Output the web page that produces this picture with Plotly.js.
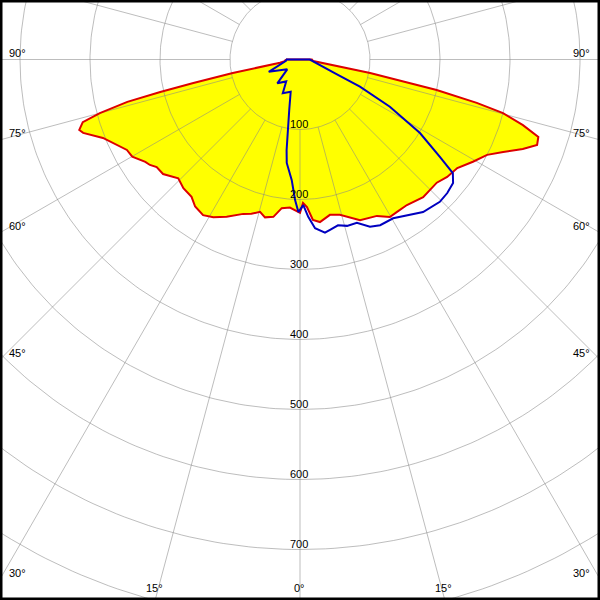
<!DOCTYPE html>
<html>
<head>
<meta charset="utf-8">
<script src="https://cdn.plot.ly/plotly-3.0.1.min.js"></script>
<style>
html,body{margin:0;padding:0;background:#fff;overflow:hidden}
#chart{width:600px;height:600px}
</style>
</head>
<body>
<div id="chart"></div>
<script>
// ---- data (gamma angle in degrees, 0 = straight down; intensity in cd/klm) ----
const redAngles  = [-90, -84, -81, -78.6, -77.6, -76.9, -76.2, -75, -73.9, -72.3, -71.3, -68.3, -62.4, -59.9, -56.5, -54.9, -53.1, -50.1, -45.7, -42.2, -38.3, -35.5, -31.9, -28.8, -25, -20.2, -17.5, -14.7, -12.5, -9.6, -7, -3.9, 0, 1.2, 2.7, 4.6, 7, 10.9, 14.4, 17.5, 20.5, 26.2, 29.7, 32.5, 36.3, 41.8, 48, 51.4, 55.4, 59.4, 63, 65.5, 68.1, 70.2, 72, 73.6, 75.2, 76.2, 77.4, 79.1, 83.4, 90];
const redValues  = [20, 22, 29, 98, 156, 205, 254, 296, 323, 331, 327, 303, 279, 277, 265, 262, 256, 255, 243, 248, 250, 258, 262, 257, 248, 235, 231, 225, 231, 228, 214, 212, 219, 205, 211, 230, 234, 226, 229, 237, 245, 249, 259, 258, 258, 264, 263, 269, 273, 287, 300, 319, 343, 360, 358, 332, 300, 260, 200, 102, 19, 17];

const blueAngles = [-90, -85, -68.5, -52.3, -43.6, -32.2, -27.1, -16.1, -12, -9.9, -8.4, -7.3, -3.9, -2, -0.6, 1.3, 3, 5.1, 8.2, 10, 12.9, 15.8, 19.2, 22.7, 25.8, 30.4, 34.5, 38.9, 44.5, 47.8, 51.1, 53.4, 55.2, 58.5, 62.3, 65.6, 68.3, 88, 90];
const blueValues = [20, 20, 48, 23, 47, 37, 54, 48, 74, 102, 131, 149, 173, 201, 218, 208, 225, 242, 250, 247, 243, 247, 247, 259, 263, 263, 270, 280, 285, 284, 281, 272, 243, 201, 145, 94, 54, 14, 14];

const ringValues = [100, 200, 300, 400, 500, 600, 700, 800];
const spokeAngles = [0, 15, 30, 45, 60, 75, 90, 105, 120, 135, 150, 165, 180, 195, 210, 225, 240, 255, 270, 285, 300, 315, 330, 345];
const radialTickValues = [100, 200, 300, 400, 500, 600, 700];
const radialTickLabels = ['100', '200', '300', '400', '500', '600', '700'];
const sideAngleValues = [90, 75, 60, 45, 30];
const sideAngleLabels = ['90°', '75°', '60°', '45°', '30°'];
const bottomAngleValues = [-15, 0, 15];
const bottomAngleLabels = ['15°', '0°', '15°'];

// ---- geometry of the view ----
const W = 600, H = 600;
const PX = 0.7;             // pixels per cd/klm
const CX = 300, CY = 59.5;  // pole position in pixels
const xRange = [-CX / PX, (W - CX) / PX];
const yRange = [-(H - CY) / PX, CY / PX];
const d2r = Math.PI / 180;

function polarToXY(angles, values, close) {
  const x = [], y = [];
  for (let i = 0; i < angles.length; i++) {
    x.push(values[i] * Math.sin(angles[i] * d2r));
    y.push(-values[i] * Math.cos(angles[i] * d2r));
  }
  if (close) { x.push(x[0]); y.push(y[0]); }
  return {x, y};
}

const red = polarToXY(redAngles, redValues, true);
const blue = polarToXY(blueAngles, blueValues, true);

// grid rings
const gx = [], gy = [];
ringValues.forEach(r => {
  for (let a = 0; a <= 360; a += 1) {
    gx.push(r * Math.sin(a * d2r));
    gy.push(-r * Math.cos(a * d2r));
  }
  gx.push(null); gy.push(null);
});
// grid spokes (start at first ring)
spokeAngles.forEach(a => {
  gx.push(ringValues[0] * Math.sin(a * d2r), 1000 * Math.sin(a * d2r), null);
  gy.push(-ringValues[0] * Math.cos(a * d2r), -1000 * Math.cos(a * d2r), null);
});

const gridColor = 'rgba(135,135,135,0.55)';
const traces = [
  {x: red.x, y: red.y, type: 'scatter', mode: 'lines', fill: 'toself', fillcolor: '#ffff00',
   line: {width: 0, color: 'rgba(0,0,0,0)'}, hoverinfo: 'skip', showlegend: false},
  {x: gx, y: gy, type: 'scatter', mode: 'lines', line: {color: gridColor, width: 1},
   hoverinfo: 'skip', showlegend: false, connectgaps: false},
  {x: red.x, y: red.y, type: 'scatter', mode: 'lines', line: {color: '#dd0000', width: 2},
   hoverinfo: 'skip', showlegend: false},
  {x: blue.x, y: blue.y, type: 'scatter', mode: 'lines', line: {color: '#0000c0', width: 2},
   hoverinfo: 'skip', showlegend: false}
];

const font = {family: 'Liberation Sans, Arial, sans-serif', size: 11, color: '#000'};
const annotations = [];
const pxToX = p => (p - CX) / PX;
const pxToY = p => (CY - p) / PX;

// radial value labels along the 0° spoke
radialTickValues.forEach((v, i) => {
  annotations.push({x: pxToX(299), y: -v + 5.5 / PX, text: radialTickLabels[i], showarrow: false,
    xanchor: 'center', yanchor: 'middle', font: font, borderpad: 0});
});
// angle labels where spokes meet the left/right frame
sideAngleValues.forEach((a, i) => {
  const yExit = -(CX / PX) / Math.tan(a * d2r);
  const yExitR = -((W - CX) / PX) / Math.tan(a * d2r);
  annotations.push({x: pxToX(8), y: yExit + 6.5 / PX, text: sideAngleLabels[i], showarrow: false,
    xanchor: 'left', yanchor: 'middle', font: font, borderpad: 0});
  annotations.push({x: pxToX(591), y: yExitR + 6.5 / PX, text: sideAngleLabels[i], showarrow: false,
    xanchor: 'right', yanchor: 'middle', font: font, borderpad: 0});
});
// angle labels where spokes meet the bottom frame
bottomAngleValues.forEach((a, i) => {
  const xExit = ((H - CY) / PX) * Math.tan(a * d2r);
  annotations.push({x: xExit - 1 / PX, y: pxToY(588), text: bottomAngleLabels[i], showarrow: false,
    xanchor: 'center', yanchor: 'middle', font: font, borderpad: 0});
});

const axisCommon = {showgrid: false, zeroline: false, showticklabels: false, ticks: '',
  showline: false, fixedrange: true};
const layout = {
  width: W, height: H,
  margin: {l: 0, r: 0, t: 0, b: 0, pad: 0},
  paper_bgcolor: '#ffffff', plot_bgcolor: '#ffffff',
  xaxis: Object.assign({range: xRange}, axisCommon),
  yaxis: Object.assign({range: yRange}, axisCommon),
  showlegend: false,
  annotations: annotations,
  shapes: [{type: 'rect', xref: 'paper', yref: 'paper', x0: 0, x1: 1, y0: 0, y1: 1,
    line: {color: '#000', width: 5}, fillcolor: 'rgba(0,0,0,0)', layer: 'above'}]
};

Plotly.newPlot('chart', traces, layout, {displayModeBar: false, staticPlot: true});
</script>
</body>
</html>
